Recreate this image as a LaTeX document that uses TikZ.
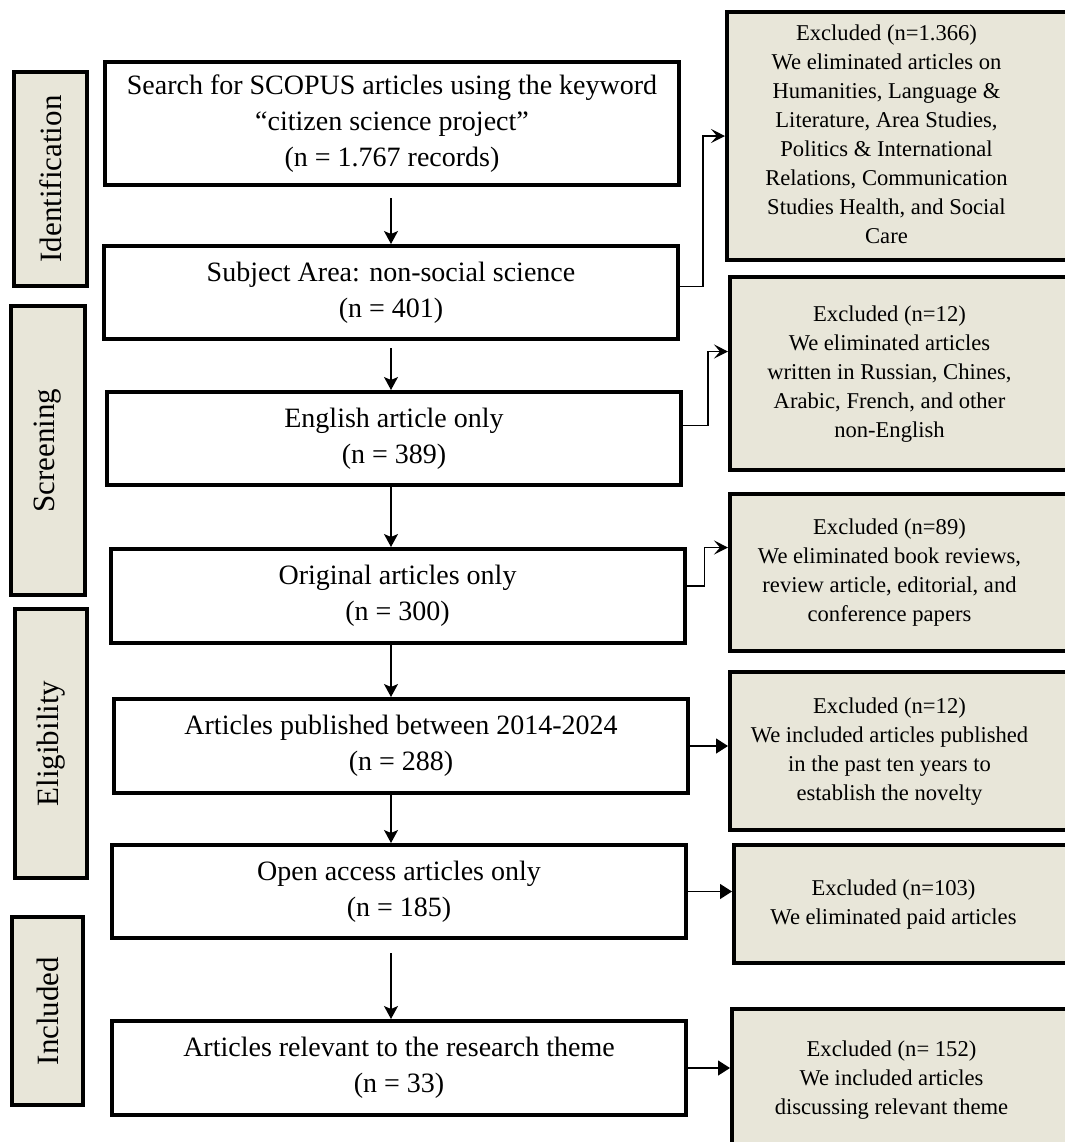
\documentclass[tikz,border=0pt]{standalone}
\usepackage{fontspec}
\setmainfont{Liberation Serif}
\usetikzlibrary{arrows.meta,calc,positioning}
\definecolor{Sand}{HTML}{E8E6D9}
\tikzset{
  mainbox/.style={draw,line width=2pt,minimum width=287pt,inner sep=0pt,align=center,font=\fontsize{14}{18}\selectfont},
  stagebox/.style={draw,fill=Sand,line width=2pt,rotate=90,inner sep=0pt,font=\fontsize{15.5}{18}\selectfont},
  exbox/.style={draw,fill=Sand,line width=2pt,anchor=west,minimum width=177.5pt,inner sep=0pt,font=\fontsize{11.3}{14.5}\selectfont},
  vline/.style={line width=0.65pt,-{Stealth[length=6.5pt,width=7pt,inset=1.5pt]}},
  elbowline/.style={line width=0.6pt,-{Stealth[length=7pt,width=7pt,inset=3pt]}},
  sideline/.style={line width=0.65pt,-{Triangle[length=6pt,width=7.5pt]}}
}
\newcommand{\exctext}[1]{\begin{tabular}{@{}c@{}}#1\end{tabular}\rule{18pt}{0pt}}
\begin{document}
\begin{tikzpicture}[x=0.5pt,y=-0.5pt]
    \useasboundingbox (0,0) rectangle (1065,1142);

    \node[mainbox,minimum height=61.5pt] (b1) at (392,123.5)
      {Search for SCOPUS articles using the keyword\\“citizen science project”\\(n = 1.767 records)};
    \node[mainbox,minimum height=46.5pt] (b2) at (391,292.5)
      {Subject Area: non-social science\\(n = 401)};
    \node[mainbox,minimum height=46.5pt] (b3) at (394,438.5)
      {English article only\\(n = 389)};
    \node[mainbox,minimum height=47pt] (b4) at (397.5,596)
      {Original articles only\\(n = 300)};
    \node[mainbox,minimum height=47pt] (b5) at (401,746)
      {Articles published between 2014-2024\\(n = 288)};
    \node[mainbox,minimum height=46.5pt] (b6) at (399,891.5)
      {Open access articles only\\(n = 185)};
    \node[mainbox,minimum height=47pt] (b7) at (399,1068)
      {Articles relevant to the research theme\\(n = 33)};

    \node[stagebox,minimum width=107pt,minimum height=36.5pt] (s1) at (50.5,179) {Identification};
    \node[stagebox,minimum width=144.5pt,minimum height=37pt] (s2) at (48,450.5) {Screening};
    \node[stagebox,minimum width=134.5pt,minimum height=36pt] (s3) at (51,743.5) {Eligibility};
    \node[stagebox,minimum width=94pt,minimum height=35.5pt] (s4) at (47.5,1011) {Included};

    \node[exbox,minimum height=124pt] (x1) at (725,136)
      {\exctext{Excluded (n=1.366)\\We eliminated articles on\\Humanities, Language \&\\Literature, Area Studies,\\Politics \& International\\Relations, Communication\\Studies Health, and Social\\Care}};
    \node[exbox,minimum height=96.5pt] (x2) at (728,373.5)
      {\exctext{Excluded (n=12)\\We eliminated articles\\written in Russian, Chines,\\Arabic, French, and other\\non-English}};
    \node[exbox,minimum height=78.5pt] (x3) at (728,572.5)
      {\exctext{Excluded (n=89)\\We eliminated book reviews,\\review article, editorial, and\\conference papers}};
    \node[exbox,minimum height=79pt] (x4) at (728,751)
      {\exctext{Excluded (n=12)\\We included articles published\\in the past ten years to\\establish the novelty}};
    \node[exbox,minimum height=59pt] (x5) at (732,904)
      {\exctext{Excluded (n=103)\\We eliminated paid articles}};
    \node[exbox,minimum height=71pt] (x6) at (730,1080)
      {\exctext{Excluded (n= 152)\\We included articles\\discussing relevant theme}};

    \coordinate (col) at (391,0);
    \draw[vline,shorten <=5.5pt] (b1.south -| col) -- (b2.north -| col);
    \draw[vline,shorten <=3.5pt] (b2.south -| col) -- (b3.north -| col);
    \draw[vline] (b3.south -| col) -- (b4.north -| col);
    \draw[vline] (b4.south -| col) -- (b5.north -| col);
    \draw[vline] (b5.south -| col) -- (b6.north -| col);
    \draw[vline,shorten <=6.5pt] (b6.south -| col) -- (b7.north -| col);

    \draw[elbowline] ($(b2.east)+(0,-6)$) -- ++(23,0) |- (x1.west);
    \draw[elbowline] ($(b3.east)+(0,-13)$) -- ++(25,0) |- ($(x2.west)+(0,-22)$);
    \draw[elbowline] ($(b4.east)+(0,-10)$) -- ++(18,0) |- ($(x3.west)+(0,-25)$);
    \draw[sideline] (b5.east) -- (b5.east -| x4.west);
    \draw[sideline] (b6.east) -- (b6.east -| x5.west);
    \draw[sideline] (b7.east) -- (b7.east -| x6.west);
\end{tikzpicture}
\end{document}
